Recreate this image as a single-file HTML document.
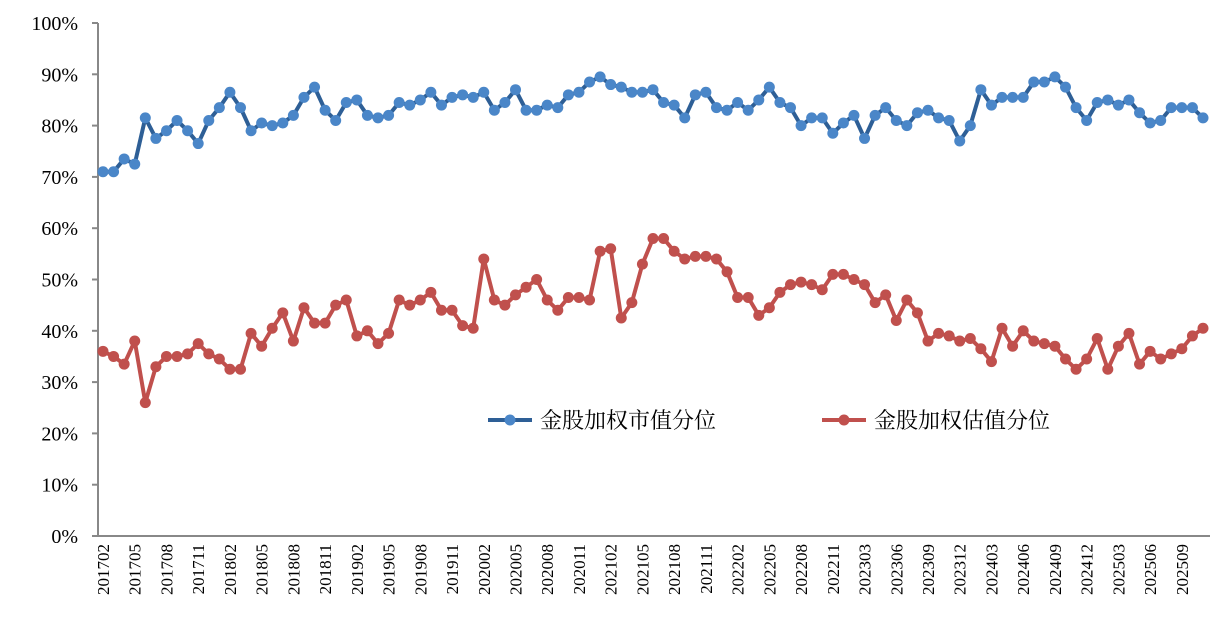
<!DOCTYPE html>
<html><head><meta charset="utf-8"><style>
body{margin:0;background:#fff}
svg text{font-family:"Liberation Serif","Noto Serif CJK SC",serif;fill:#000}
</style></head><body>
<svg id="c" width="1227" height="636" xmlns="http://www.w3.org/2000/svg"></svg>
<script>
const mktVals=[71,71,73.5,72.5,81.5,77.5,79,81,79,76.5,81,83.5,86.5,83.5,79,80.5,80,80.5,82,85.5,87.5,83,81,84.5,85,82,81.5,82,84.5,84,85,86.5,84,85.5,86,85.5,86.5,83,84.5,87,83,83,84,83.5,86,86.5,88.5,89.5,88,87.5,86.5,86.5,87,84.5,84,81.5,86,86.5,83.5,83,84.5,83,85,87.5,84.5,83.5,80,81.5,81.5,78.5,80.5,82,77.5,82,83.5,81,80,82.5,83,81.5,81,77,80,87,84,85.5,85.5,85.5,88.5,88.5,89.5,87.5,83.5,81,84.5,85,84,85,82.5,80.5,81,83.5,83.5,83.5,81.5];
const valVals=[36,35,33.5,38,26,33,35,35,35.5,37.5,35.5,34.5,32.5,32.5,39.5,37,40.5,43.5,38,44.5,41.5,41.5,45,46,39,40,37.5,39.5,46,45,46,47.5,44,44,41,40.5,54,46,45,47,48.5,50,46,44,46.5,46.5,46,55.5,56,42.5,45.5,53,58,58,55.5,54,54.5,54.5,54,51.5,46.5,46.5,43,44.5,47.5,49,49.5,49,48,51,51,50,49,45.5,47,42,46,43.5,38,39.5,39,38,38.5,36.5,34,40.5,37,40,38,37.5,37,34.5,32.5,34.5,38.5,32.5,37,39.5,33.5,36,34.5,35.5,36.5,39,40.5];
const yTicks=[0,10,20,30,40,50,60,70,80,90,100];
const seriesNames=["金股加权市值分位","金股加权估值分位"];
const skippedMonths=["202301"];
const N=Math.max(mktVals.length,valVals.length);
const categories=[];
for(let m=2;categories.length<N;m++){const y=2017+Math.floor((m-1)/12);const mm=((m-1)%12)+1;const c=y+String(mm).padStart(2,'0');if(!skippedMonths.includes(c))categories.push(c);}
const X0=103,X1=1203,Y0=536,Y1=23;
const xs=i=>X0+(X1-X0)*i/(N-1);
const ys=v=>Y0-(Y0-Y1)*v/100;
const svg=document.getElementById('c');const NS='http://www.w3.org/2000/svg';
function mk(t,a,p){const e=document.createElementNS(NS,t);for(const k in a)e.setAttribute(k,a[k]);(p||svg).appendChild(e);return e;}
let ax=mk('line',{x1:98,y1:Y1,x2:98,y2:Y0,stroke:'#888','stroke-width':2});


let bx=mk('line',{x1:98,y1:Y0,x2:1210,y2:Y0,stroke:'#888','stroke-width':2});


yTicks.forEach(t=>{
 const y=ys(t);
 let tk=mk('line',{x1:92,y1:y,x2:98,y2:y,stroke:'#888','stroke-width':2});
 
 
 let tx=mk('text',{x:78,y:y+7,'text-anchor':'end','font-size':20});
 tx.textContent=t+'%';
 
 
});
categories.forEach((c,i)=>{
 if(i%3!==0)return;
 const x=xs(i);
 let tx=mk('text',{x:0,y:0,'text-anchor':'end','font-size':17,transform:`translate(${x+6},${Y0+8}) rotate(-90)`});
 tx.textContent=c;
 
 
});
function series(vals,lc,mc,name){
 const g=mk('g',{});
 
 
 mk('polyline',{points:vals.map((v,i)=>xs(i)+','+ys(v)).join(' '),fill:'none',stroke:lc,'stroke-width':4,'stroke-linejoin':'round'},g);
 vals.forEach((v,i)=>{
  let p=mk('circle',{cx:xs(i),cy:ys(v),r:5.5,fill:mc},g);
  
  
 });
}
series(mktVals,'#2e5f96','#4a86c8','market-cap-series');
series(valVals,'#c0504d','#c0504d','valuation-series');
function legend(x,lc,mc,label,name){
 const g=mk('g',{});
 
 
 mk('line',{x1:x,y1:420,x2:x+44,y2:420,stroke:lc,'stroke-width':4},g);
 mk('circle',{cx:x+22,cy:420,r:5.5,fill:mc},g);
 const t=mk('text',{x:x+52,y:428,'font-size':22},g);t.textContent=label;
}
legend(488,'#2e5f96','#4a86c8',seriesNames[0],'legend-entry-market-cap');
legend(822,'#c0504d','#c0504d',seriesNames[1],'legend-entry-valuation');
</script>
</body></html>
